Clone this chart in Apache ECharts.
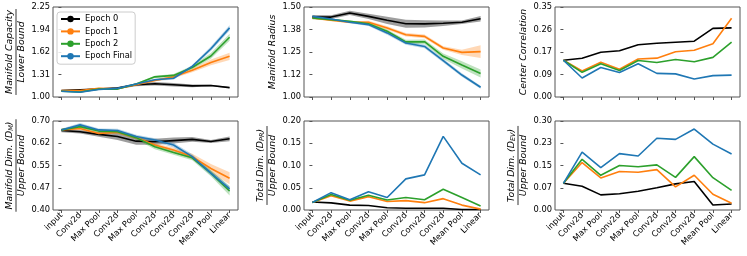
<!DOCTYPE html>
<html><head><meta charset="utf-8">
<script src="https://cdn.jsdelivr.net/npm/echarts@6/dist/echarts.min.js"></script>
<style>html,body{margin:0;padding:0;background:#fff}#c{width:747px;height:256px}</style>
</head><body><div id="c"></div>
<script>
// ---------- data ----------
const layers = ['input','Conv2d','Max Pool','Conv2d','Max Pool','Conv2d','Conv2d','Conv2d','Mean Pool','Linear'];
const epochNames = ['Epoch 0','Epoch 1','Epoch 2','Epoch Final'];
const epochColors = ['#000000','#ff7f0e','#2ca02c','#1f77b4'];

// Panel A: Manifold Capacity / Lower Bound
const capE0 = [1.09,1.10,1.11,1.125,1.17,1.185,1.17,1.155,1.16,1.13];
const capE1 = [1.09,1.09,1.12,1.115,1.17,1.23,1.28,1.37,1.48,1.565];
const capE2 = [1.08,1.07,1.11,1.11,1.18,1.28,1.30,1.41,1.57,1.83];
const capEF = [1.08,1.065,1.105,1.12,1.18,1.24,1.26,1.425,1.67,1.96];
const capS0 = [0.008,0.008,0.01,0.015,0.02,0.025,0.025,0.02,0.01,0.01];
const capS1 = [0.005,0.005,0.008,0.008,0.01,0.015,0.02,0.025,0.04,0.05];
const capS2 = [0.005,0.005,0.008,0.008,0.01,0.015,0.02,0.025,0.04,0.05];
const capSF = [0.005,0.005,0.008,0.008,0.01,0.015,0.02,0.02,0.03,0.035];
const capTicks = ['1.00','1.31','1.62','1.94','2.25'];

// Panel B: Manifold Radius
const radE0 = [1.444,1.444,1.467,1.448,1.426,1.407,1.406,1.41,1.415,1.435];
const radE1 = [1.439,1.426,1.415,1.415,1.383,1.346,1.337,1.272,1.248,1.252];
const radE2 = [1.439,1.43,1.42,1.407,1.365,1.306,1.307,1.226,1.178,1.131];
const radEF = [1.448,1.433,1.415,1.402,1.356,1.30,1.281,1.202,1.122,1.054];
const radS0 = [0.012,0.01,0.012,0.015,0.02,0.022,0.02,0.015,0.01,0.015];
const radS1 = [0.005,0.005,0.005,0.008,0.01,0.01,0.01,0.01,0.015,0.035];
const radS2 = [0.005,0.005,0.005,0.008,0.01,0.012,0.012,0.015,0.02,0.022];
const radSF = [0.005,0.005,0.005,0.008,0.01,0.01,0.01,0.01,0.01,0.008];
const radTicks = ['1.00','1.12','1.25','1.38','1.50'];

// Panel C: Center Correlation
const corE0 = [0.143,0.151,0.174,0.18,0.203,0.209,0.213,0.217,0.267,0.269];
const corE1 = [0.143,0.101,0.135,0.108,0.148,0.151,0.176,0.182,0.207,0.306];
const corE2 = [0.143,0.096,0.129,0.103,0.142,0.134,0.146,0.137,0.154,0.213];
const corEF = [0.143,0.074,0.115,0.095,0.129,0.092,0.09,0.07,0.083,0.085];
const corTicks = ['0.00','0.09','0.17','0.26','0.35'];

// Panel D: Manifold Dim (D_M) / Upper Bound
const dimE0 = [0.668,0.664,0.655,0.648,0.632,0.630,0.634,0.638,0.631,0.640];
const dimE1 = [0.670,0.675,0.658,0.662,0.644,0.619,0.602,0.580,0.540,0.507];
const dimE2 = [0.670,0.681,0.666,0.664,0.644,0.613,0.594,0.576,0.524,0.464];
const dimEF = [0.670,0.687,0.670,0.668,0.648,0.636,0.619,0.580,0.524,0.471];
const dimS0 = [0.006,0.006,0.008,0.012,0.012,0.01,0.01,0.008,0.005,0.008];
const dimS1 = [0.004,0.005,0.005,0.005,0.006,0.006,0.008,0.01,0.015,0.02];
const dimS2 = [0.004,0.005,0.005,0.005,0.006,0.008,0.008,0.008,0.01,0.015];
const dimSF = [0.004,0.006,0.005,0.006,0.006,0.006,0.008,0.008,0.008,0.01];
const dimTicks = ['0.40','0.47','0.55','0.62','0.70'];

// Panel E: Total Dim (D_PR) / Upper Bound
const prE0 = [0.018,0.016,0.011,0.010,0.005,0.004,0.004,0.004,0.001,0.001];
const prE1 = [0.017,0.032,0.020,0.030,0.019,0.021,0.0165,0.0255,0.011,0.002];
const prE2 = [0.017,0.035,0.022,0.033,0.0225,0.028,0.023,0.0465,0.028,0.009];
const prEF = [0.017,0.039,0.023,0.041,0.028,0.070,0.079,0.1655,0.105,0.079];
const prTicks = ['0.00','0.05','0.10','0.15','0.20'];

// Panel F: Total Dim (D_EV) / Upper Bound
const evE0 = [0.090,0.080,0.051,0.055,0.063,0.075,0.088,0.096,0.017,0.020];
const evE1 = [0.090,0.160,0.108,0.130,0.127,0.136,0.078,0.117,0.053,0.0225];
const evE2 = [0.090,0.171,0.117,0.150,0.146,0.152,0.110,0.180,0.109,0.066];
const evEF = [0.090,0.195,0.143,0.190,0.182,0.242,0.238,0.273,0.222,0.189];
const evTicks = ['0.00','0.07','0.15','0.23','0.30'];

// ---------- chart assembly ----------
const panels = [
  {min:1.0, max:2.25, ticks:capTicks, lines:[capE0,capE1,capE2,capEF], spread:[capS0,capS1,capS2,capSF]},
  {min:1.0, max:1.5, ticks:radTicks, lines:[radE0,radE1,radE2,radEF], spread:[radS0,radS1,radS2,radSF]},
  {min:0, max:0.35, ticks:corTicks, lines:[corE0,corE1,corE2,corEF], spread:null},
  {min:0.4, max:0.7, ticks:dimTicks, lines:[dimE0,dimE1,dimE2,dimEF], spread:[dimS0,dimS1,dimS2,dimSF]},
  {min:0, max:0.2, ticks:prTicks, lines:[prE0,prE1,prE2,prEF], spread:null},
  {min:0, max:0.3, ticks:evTicks, lines:[evE0,evE1,evE2,evEF], spread:null}
];

const FONT = 'DejaVu Sans';
const colLeft = [53, 304, 555];
const rowTop = [7, 121];
const rowH = [90, 89];
const W = 185;
const AX = '#555';
const idx = layers.map((_, i) => i);
const bandAlpha = [0.38, 0.3, 0.3, 0.3];

function bandRenderer(rows, color, alpha) {
  return function (params, api) {
    if (params.dataIndex !== 0) return null;
    const upper = rows.map(r => api.coord([r[0], r[2]]));
    const lower = rows.map(r => api.coord([r[0], r[1]])).reverse();
    return {type: 'polygon', shape: {points: upper.concat(lower)},
      style: {fill: color, opacity: alpha}, silent: true};
  };
}

const grids = [], xAxes = [], yAxes = [], series = [];
panels.forEach((p, k) => {
  const r = Math.floor(k / 3), c = k % 3;
  grids.push({left: colLeft[c], top: rowTop[r], width: W, height: rowH[r], show: true,
    borderColor: AX, borderWidth: 1, backgroundColor: 'transparent', containLabel: false});
  xAxes.push({type: 'value', gridIndex: k, min: -0.45, max: 9.45,
    axisLine: {show: false}, splitLine: {show: false},
    axisTick: {show: true, customValues: idx, length: 3, lineStyle: {color: AX}},
    axisLabel: {show: r === 1, customValues: idx, rotate: 45, margin: 4, fontSize: 8.3,
      fontFamily: FONT, color: '#000', formatter: v => layers[Math.round(v)]}});
  const interval = (p.max - p.min) / 4;
  yAxes.push({type: 'value', gridIndex: k, min: p.min, max: p.max, interval: interval,
    axisLine: {show: false}, splitLine: {show: false},
    axisTick: {show: true, length: 3, lineStyle: {color: AX}},
    axisLabel: {fontSize: 8.3, fontFamily: FONT, color: '#000', margin: 3,
      showMinLabel: true, showMaxLabel: true,
      formatter: v => p.ticks[Math.round((v - p.min) / interval)]}});
  p.lines.forEach((vals, e) => {
    if (p.spread) {
      const s = p.spread[e];
      const rows = vals.map((v, i) => [i, v - s[i], v + s[i]]);
      series.push({type: 'custom', xAxisIndex: k, yAxisIndex: k, silent: true, z: 2,
        data: rows, renderItem: bandRenderer(rows, epochColors[e], bandAlpha[e]), animation: false,
        encode: {x: 0, y: [1, 2]}, clip: true});
    }
    series.push({type: 'line', name: epochNames[e], xAxisIndex: k, yAxisIndex: k,
      data: vals.map((v, i) => [i, v]), symbol: 'none',
      lineStyle: {color: epochColors[e], width: 1.6}, itemStyle: {color: epochColors[e]},
      z: 3 + e, animation: false});
  });
});

// ---------- axis titles (graphic text) ----------
const mctx = document.createElement('canvas').getContext('2d');
function tw(t, fs) { mctx.font = 'italic ' + fs + 'px "' + FONT + '"'; return mctx.measureText(t).width; }
const graphics = [];
const FS = 9.4;
const richStyles = {
  n: {fontSize: FS, fontStyle: 'italic', fontFamily: FONT, fill: '#000'},
  s: {fontSize: 6.5, fontStyle: 'italic', fontFamily: FONT, fill: '#000', verticalAlign: 'bottom', padding: [3, 0, 0, 0]}
};
function single(text, x, y) {
  graphics.push({type: 'text', x: x, y: y, rotation: Math.PI / 2,
    style: {text: text, fontSize: FS, fontStyle: 'italic', fontFamily: FONT, fill: '#000',
      align: 'center', verticalAlign: 'middle'}});
}
function frac(numRich, numPlain, den, x0, y) {
  graphics.push({type: 'text', x: x0 - 43, y: y, rotation: Math.PI / 2,
    style: {text: numRich, rich: richStyles, align: 'center', verticalAlign: 'middle'}});
  graphics.push({type: 'text', x: x0 - 31.5, y: y, rotation: Math.PI / 2,
    style: {text: den, fontSize: FS, fontStyle: 'italic', fontFamily: FONT, fill: '#000',
      align: 'center', verticalAlign: 'middle'}});
  const L = Math.max(tw(numPlain, FS), tw(den, FS)) + 2;
  graphics.push({type: 'line', shape: {x1: x0 - 37, y1: y - L / 2, x2: x0 - 37, y2: y + L / 2},
    style: {stroke: '#000', lineWidth: 0.8}});
}
const yc0 = rowTop[0] + rowH[0] / 2, yc1 = rowTop[1] + rowH[1] / 2;
frac('{n|Manifold Capacity}', 'Manifold Capacity', 'Lower Bound', colLeft[0], yc0);
single('Manifold Radius', colLeft[1] - 31, yc0);
single('Center Correlation', colLeft[2] - 31, yc0);
frac('{n|Manifold Dim. (D}{s|M}{n|)}', 'Manifold Dim. (DM)', 'Upper Bound', colLeft[0], yc1);
frac('{n|Total Dim. (D}{s|PR}{n|)}', 'Total Dim. (DPR)', 'Upper Bound', colLeft[1], yc1);
frac('{n|Total Dim. (D}{s|EV}{n|)}', 'Total Dim. (DEV)', 'Upper Bound', colLeft[2], yc1);

const chart = echarts.init(document.getElementById('c'), null, {renderer: 'canvas'});
chart.setOption({
  animation: false,
  backgroundColor: '#fff',
  textStyle: {fontFamily: FONT},
  grid: grids, xAxis: xAxes, yAxis: yAxes, series: series,
  legend: {data: epochNames, orient: 'vertical', left: 57, top: 12, itemWidth: 19, itemHeight: 8,
    itemGap: 4.4, padding: [3, 3, 4, 3], backgroundColor: 'rgba(255,255,255,0.85)',
    borderColor: '#ccc', borderWidth: 1, borderRadius: 3,
    textStyle: {fontSize: 8.3, fontFamily: FONT, color: '#000', lineHeight: 8}},
  graphic: graphics
});
</script></body></html>
